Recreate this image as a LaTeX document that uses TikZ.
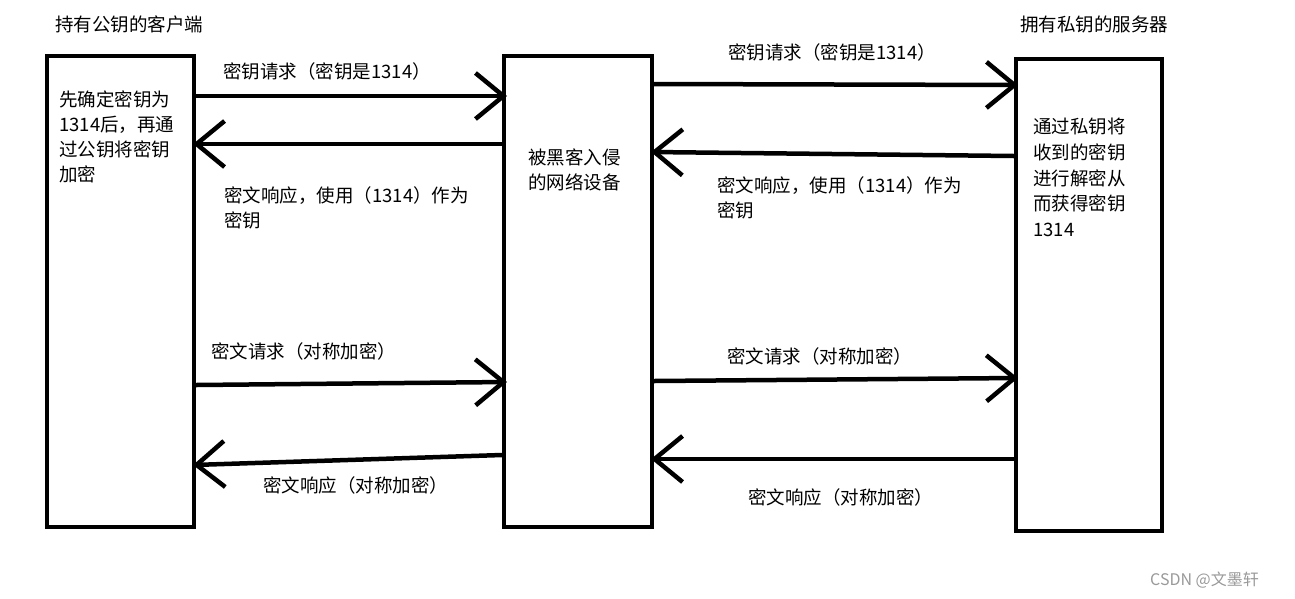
\documentclass[tikz,border=0pt]{standalone}
\usepackage{fontspec}
\setmainfont{Noto Sans CJK SC}
\usetikzlibrary{arrows.meta}
\tikzset{
  box/.style={draw, line width=4pt, minimum width=#1, minimum height=471pt, inner sep=0pt},
  arr/.style={line width=4.5pt, -{Straight Barb[length=28pt, width=46pt, line width=4.5pt]}},
  txt/.style={anchor=west, inner sep=0pt, align=left, font=\fontsize{18.5pt}{25pt}\selectfont},
}
\begin{document}
\begin{tikzpicture}[x=1pt, y=-1pt]
        \useasboundingbox (0,0) rectangle (1295,598);
        % define boxes
        \node[box=147pt] (client) at (120.5,291.5) {};
        \node[box=148pt] (mid)    at (578,291.5) {};
        \node[box=146pt, minimum height=472pt] (server) at (1089,295) {};
        % titles and box texts
        \node[txt] (clienttitle) at (55,24) {持有公钥的客户端};
        \node[txt] (servertitle) at (1020,24) {拥有私钥的服务器};
        \node[txt] (clienttext) at (59,136.5) {先确定密钥为\\1314后，再通\\过公钥将密钥\\加密};
        \node[txt] (midtext) at (528,169.5) {被黑客入侵\\的网络设备};
        \node[txt, font=\fontsize{18.5pt}{25.7pt}\selectfont] (servertext) at (1033,177.5) {通过私钥将\\收到的密钥\\进行解密从\\而获得密钥\\1314};
        % key exchange
        \draw[arr] ([yshift=-42pt]client.north east) -- ([xshift=5pt, yshift=-42pt]mid.north west);
        \draw[arr] ([yshift=-90pt]mid.north west) -- ([xshift=-3pt, yshift=-90pt]client.north east);
        \draw[arr] ([yshift=-30pt]mid.north east) -- ([xshift=4pt, yshift=-28pt]server.north west);
        \draw[arr] ([yshift=-99pt]server.north west) -- ([xshift=-3pt, yshift=-98pt]mid.north east);
        \node[txt] (keyreq1) at (223,71) {密钥请求（密钥是1314）};
        \node[txt] (keyresp1) at (224,207.5) {密文响应，使用（1314）作为\\密钥};
        \node[txt] (keyreq2) at (728,52) {密钥请求（密钥是1314）};
        \node[txt] (keyresp2) at (717,197.5) {密文响应，使用（1314）作为\\密钥};
        % symmetric traffic
        \draw[arr] ([yshift=-331pt]client.north east) -- ([xshift=5pt, yshift=-328pt]mid.north west);
        \draw[arr] ([yshift=-401pt]mid.north west) -- ([xshift=-3pt, yshift=-411pt]client.north east);
        \draw[arr] ([yshift=-327pt]mid.north east) -- ([xshift=4pt, yshift=-321pt]server.north west);
        \draw[arr] ([yshift=-402pt]server.north west) -- ([xshift=-3pt, yshift=-405pt]mid.north east);
        \node[txt] (datareq1) at (211,351) {密文请求（对称加密）};
        \node[txt] (dataresp1) at (263,485) {密文响应（对称加密）};
        \node[txt] (datareq2) at (727,356) {密文请求（对称加密）};
        \node[txt] (dataresp2) at (748,497) {密文响应（对称加密）};
        % watermark
        \node[txt, text=black!40, font=\fontsize{16pt}{18pt}\selectfont] (mark) at (1150,580) {CSDN @文墨轩};
    \end{tikzpicture}
\end{document}
